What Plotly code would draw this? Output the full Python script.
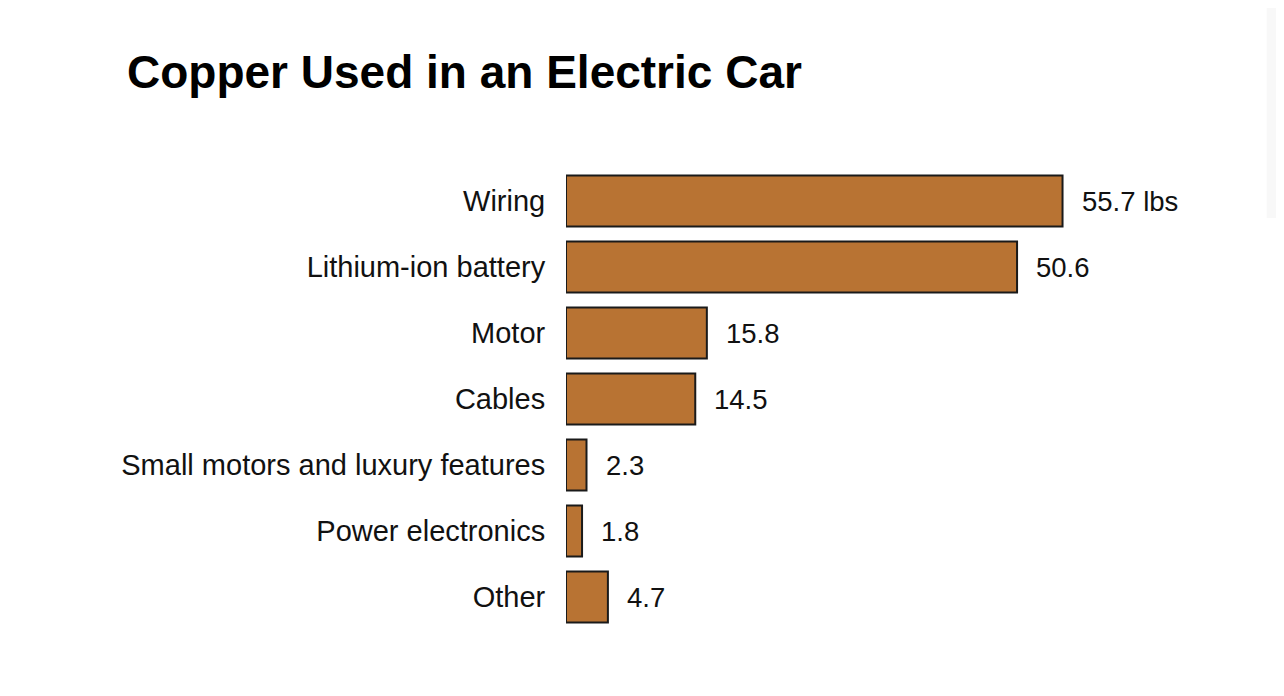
import plotly.graph_objects as go

# Pounds of copper per component, top to bottom as drawn
components = [
    "Wiring",
    "Lithium-ion battery",
    "Motor",
    "Cables",
    "Small motors and luxury features",
    "Power electronics",
    "Other",
]
pounds = [55.7, 50.6, 15.8, 14.5, 2.3, 1.8, 4.7]
value_labels = ["55.7 lbs", "50.6", "15.8", "14.5", "2.3", "1.8", "4.7"]

COPPER = "#b87333"
FONT = "Liberation Sans, Arial, Helvetica, sans-serif"

fig = go.Figure()
fig.add_trace(go.Bar(
    y=components,
    x=pounds,
    orientation="h",
    marker=dict(color=COPPER, line=dict(color="#1a1a1a", width=2)),
    hoverinfo="skip",
))

for name, val, lab in zip(components, pounds, value_labels):
    fig.add_annotation(
        x=val, y=name, text=lab,
        showarrow=False, xanchor="left", yanchor="middle",
        xshift=17,
        font=dict(size=27.5, color="#111111", family=FONT),
    )

# faint strip at the right edge of the original screenshot
fig.add_shape(
    type="rect", xref="paper", yref="paper",
    x0=1.123, x1=1.2, y0=0.892, y1=1.4,
    fillcolor="#f8f8f8", line=dict(width=0), layer="below",
)

fig.update_layout(
    width=1284, height=696,
    paper_bgcolor="white", plot_bgcolor="white",
    title=dict(
        text="<b>Copper Used in an Electric Car</b>",
        x=119 / 1284, xanchor="left",
        y=1 - 64 / 696, yanchor="middle",
        font=dict(size=46, color="#000000", family=FONT),
    ),
    xaxis=dict(
        range=[0, 70], visible=False, fixedrange=True,
    ),
    yaxis=dict(
        autorange="reversed",
        showgrid=False, zeroline=False, showline=False,
        ticks="outside", ticklen=14, tickcolor="rgba(0,0,0,0)",
        tickfont=dict(size=29, color="#111111", family=FONT),
        fixedrange=True,
    ),
    bargap=0.23,
    showlegend=False,
    margin=dict(l=558, r=102, t=160, b=74),
)

fig.write_html("out.html", config={"displayModeBar": False})
